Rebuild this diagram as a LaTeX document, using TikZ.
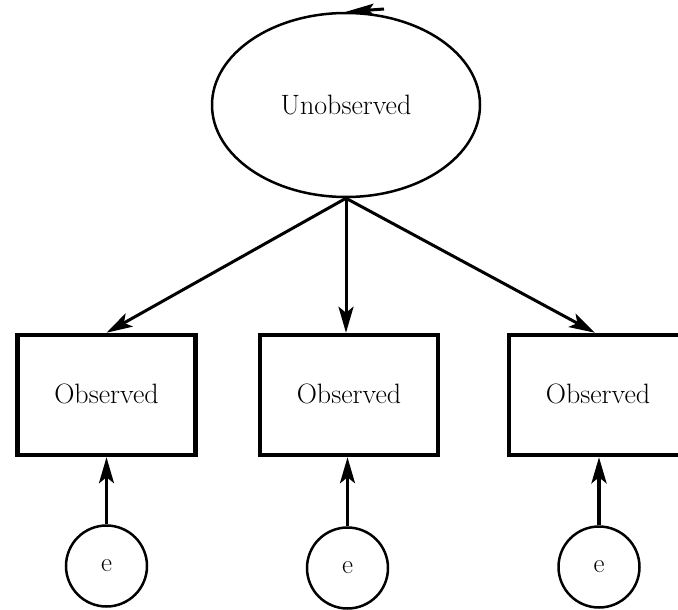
\documentclass[tikz,border=0pt]{standalone}
\usetikzlibrary{shapes.geometric,arrows.meta}
\tikzset{
  labelfont/.style={font=\fontsize{28}{33}\selectfont},
  latent/.style={ellipse, draw, line width=2.5pt, minimum width=268pt,
    minimum height=184pt, inner sep=0pt, labelfont},
  manifest/.style={rectangle, draw, line width=4.5pt, minimum width=178pt,
    minimum height=120pt, inner sep=0pt, labelfont},
  errterm/.style={circle, draw, line width=2.5pt, minimum size=81pt,
    inner sep=0pt, font=\fontsize{27}{32}\selectfont},
  link/.style={line width=3pt, -{Stealth[length=26pt,width=15pt,inset=6pt]}},
}
\begin{document}
\begin{tikzpicture}[x=1pt,y=-1pt]
  \useasboundingbox (0,0) rectangle (678,610);
  \clip (0,0) rectangle (678,610);

  % latent factor
  \node[latent] (u) at (346,105) {Unobserved};

  % indicators
  \node[manifest] (o1) at (106.5,395) {\raisebox{3pt}{Observed}};
  \node[manifest] (o2) at (349,395) {\raisebox{3pt}{Observed}};
  \node[manifest] (o3) at (598,395) {\raisebox{3pt}{Observed}};

  % error terms
  \node[errterm] (e1) at (106.5,566) {e};
  \node[errterm] (e2) at (347.5,568) {e};
  \node[errterm] (e3) at (599,567) {e};

  % loadings
  \draw[link] (u.south) -- (o1.north);
  \draw[link] (u.south) -- (u.south |- o2.north);
  \draw[link] (u.south) -- ([xshift=-3pt]o3.north);

  % error paths
  \draw[link] (e1.north) -- (o1.south);
  \draw[link] (e2.north) -- (e2.north |- o2.south);
  \draw[link, line width=4pt] (e3.north) -- (e3.north |- o3.south);

  % incoming path at the top of the factor
  \coordinate (fb) at (384,9);
  \draw[line width=3pt, -{Stealth[length=28pt,width=12pt,inset=5pt]}] (fb) -- (u.north);
\end{tikzpicture}
\end{document}
